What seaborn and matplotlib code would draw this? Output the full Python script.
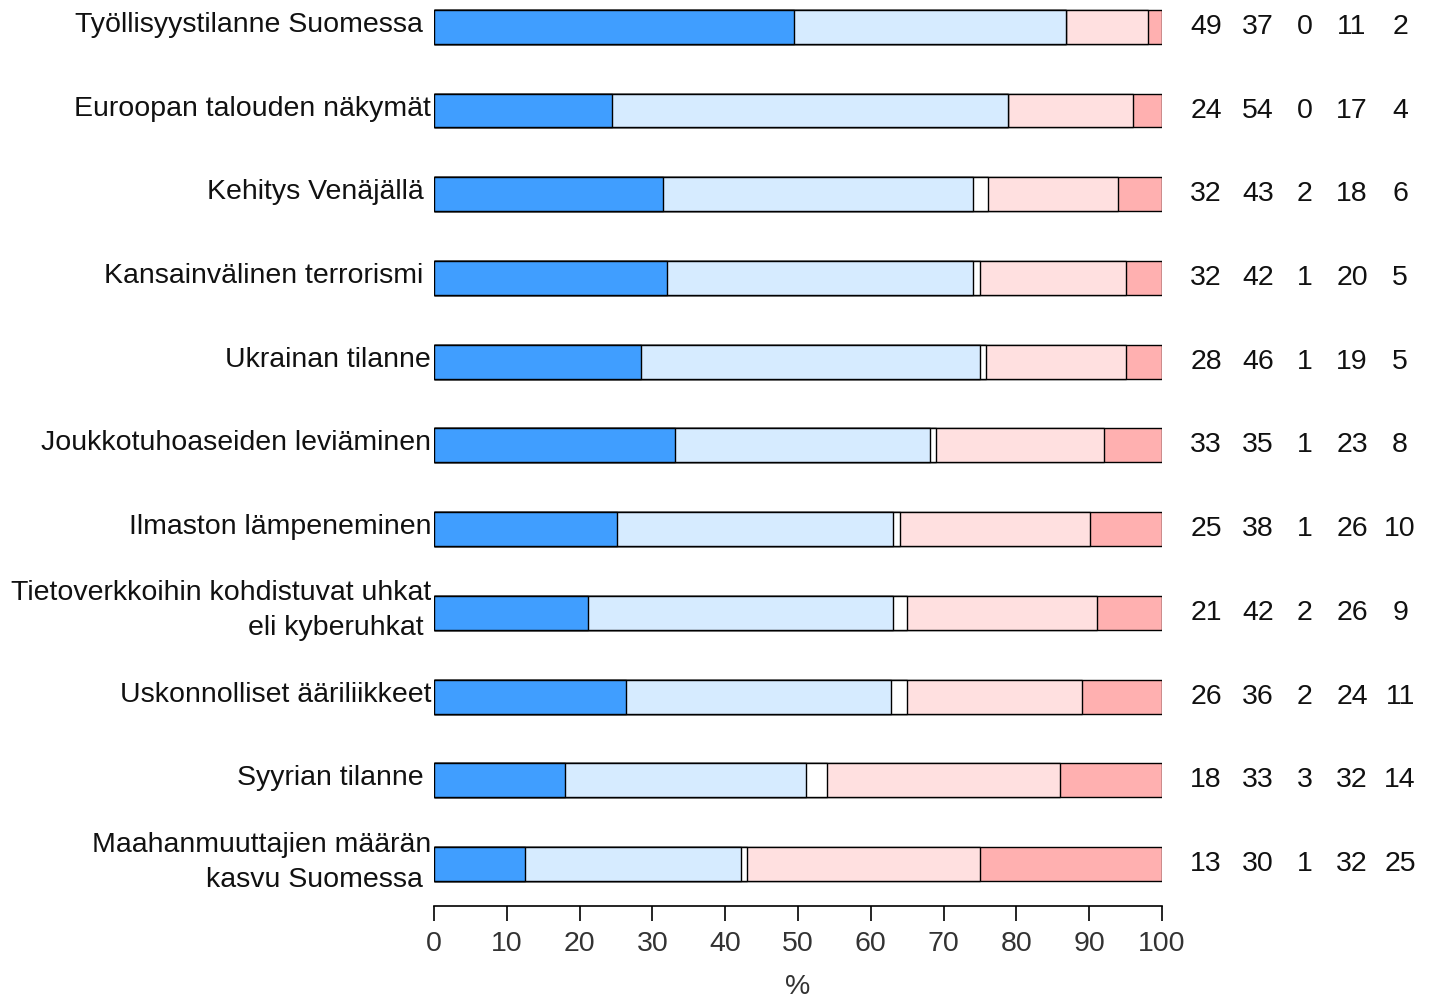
import seaborn as sns
import matplotlib.pyplot as plt
import matplotlib.transforms as mtransforms
import pandas as pd
import numpy as np

# Topics (top to bottom)
topics = [
    'Työllisyystilanne Suomessa ',
    'Euroopan talouden näkymät',
    'Kehitys Venäjällä ',
    'Kansainvälinen terrorismi ',
    'Ukrainan tilanne',
    'Joukkotuhoaseiden leviäminen',
    'Ilmaston lämpeneminen',
    'Tietoverkkoihin kohdistuvat uhkat\neli kyberuhkat ',
    'Uskonnolliset ääriliikkeet',
    'Syyrian tilanne ',
    'Maahanmuuttajien määrän\nkasvu Suomessa ',
]

# Segment shares (%) as drawn in the bars
seg1 = [49.45, 24.45, 31.45, 32.0, 28.4, 33.1, 25.1, 21.15, 26.4, 18.0, 12.5]
seg2 = [37.35, 54.4, 42.6, 42.0, 46.5, 35.0, 37.9, 41.9, 36.4, 33.1, 29.7]
seg3 = [0.0, 0.0, 2.1, 1.0, 0.9, 0.9, 1.0, 1.9, 2.2, 2.9, 0.8]
seg4 = [11.3, 17.2, 17.9, 20.05, 19.2, 23.0, 26.1, 26.1, 24.0, 32.0, 32.0]
seg5 = [1.9, 4.0, 6.0, 4.95, 4.95, 8.0, 9.9, 8.9, 11.0, 14.0, 25.0]

# Rounded numbers printed to the right
lab1 = [49, 24, 32, 32, 28, 33, 25, 21, 26, 18, 13]
lab2 = [37, 54, 43, 42, 46, 35, 38, 42, 36, 33, 30]
lab3 = [0, 0, 2, 1, 1, 1, 1, 2, 2, 3, 1]
lab4 = [11, 17, 18, 20, 19, 23, 26, 26, 24, 32, 32]
lab5 = [2, 4, 6, 5, 5, 8, 10, 9, 11, 14, 25]

colors = ['#409EFF', '#D6EBFF', '#FFFFFF', '#FFE0E0', '#FFB0B0']

segs = np.array([seg1, seg2, seg3, seg4, seg5])
cum = segs.cumsum(axis=0)
cum = cum / cum[-1] * 100

sns.set_style('white')
plt.rcParams['font.family'] = ['Liberation Sans', 'DejaVu Sans']
FS = 20.5

fig = plt.figure(figsize=(14.3, 9.97), dpi=100)
ax = fig.add_axes([0.3035, 0.0913, 0.5091, 0.9087])

# draw cumulative bars from the longest to the shortest so they stack
for k in range(4, -1, -1):
    df = pd.DataFrame({'topic': topics, 'value': cum[k]})
    sns.barplot(data=df, y='topic', x='value', order=topics, orient='h',
                color=colors[k], saturation=1, width=0.405,
                edgecolor='black', linewidth=1.0, ax=ax)

ax.set_xlim(0, 100)
ax.set_ylim(10.5, -0.32)
ax.set_xticks(range(0, 101, 10))
ax.set_xlabel('%', fontsize=FS, color='#333333', labelpad=12)
ax.set_ylabel('')
ax.tick_params(axis='x', labelsize=FS, labelcolor='#333333', length=11,
               width=1.2, direction='out', color='black', bottom=True, pad=7)
ax.tick_params(axis='y', length=0, labelsize=FS, pad=2, labelcolor='#111111')
for lbl in ax.get_yticklabels():
    lbl.set_multialignment('right')
    lbl.set_verticalalignment('center')
    lbl.set_linespacing(1.45)
    # labels sit a little above the bar centre
    lbl.set_transform(lbl.get_transform() +
                      mtransforms.ScaledTranslation(0, 2 / 100, fig.dpi_scale_trans))

for s in ['top', 'right', 'left']:
    ax.spines[s].set_visible(False)
ax.spines['bottom'].set_color('black')
ax.spines['bottom'].set_linewidth(1.2)

trans = mtransforms.blended_transform_factory(ax.transAxes, ax.transData)
cols = [1.0604, 1.1319, 1.1964, 1.261, 1.327]
labels = [lab1, lab2, lab3, lab4, lab5]
for i in range(len(topics)):
    for c, lab in zip(cols, labels):
        ax.text(c, i, str(lab[i]), transform=trans, ha='center', va='center',
                fontsize=FS, color='#111111', clip_on=False)

fig.savefig('out.png', dpi=100, facecolor='white')
